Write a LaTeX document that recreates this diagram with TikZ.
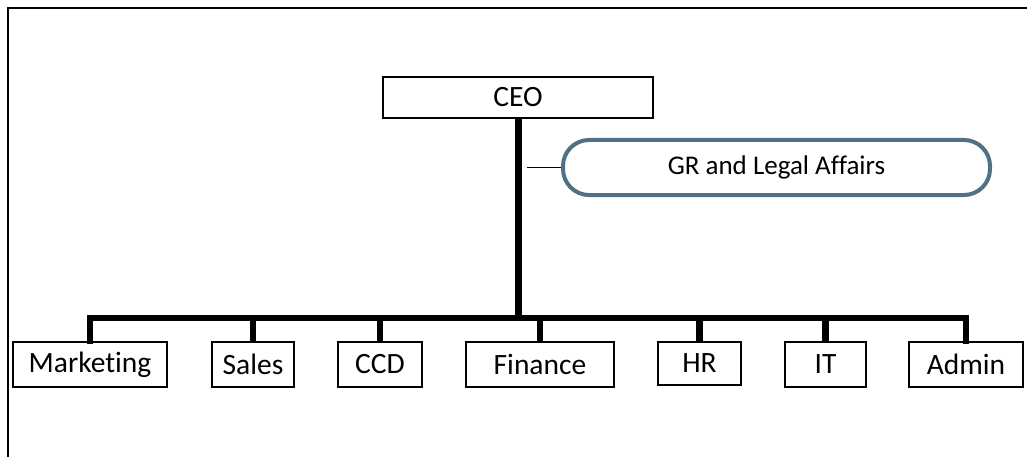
\documentclass[tikz,border=0pt]{standalone}
\usepackage{fontspec}
\setmainfont[Ligatures={NoCommon}]{Carlito}
\begin{document}
\begin{tikzpicture}[x=1pt,y=-1pt,
  unit/.style={draw=black,line width=1.6pt,fill=white,inner sep=0pt,minimum height=45pt,font=\fontsize{29.5}{32}\selectfont},
  gr/.style={draw={rgb,255:red,80;green,112;blue,133},line width=4pt,rounded corners=26pt,inner sep=0pt,minimum width=427pt,minimum height=55pt,font=\fontsize{27}{30}\selectfont},
  thick line/.style={line width=6.5pt,line join=miter,line cap=rect},
  thin line/.style={line width=1.6pt}]
\useasboundingbox (0,0) rectangle (1027,457);
% frame
\draw[line width=2pt] (1027,8) -- (8,8) -- (8,457);
% boxes
\node[unit,minimum width=270pt,minimum height=41pt] (ceo) at (518,97.5) {CEO};
\node[gr] (grl) at (776.5,167.5) {GR and Legal Affairs};
\node[unit,minimum width=154pt] (mk) at (90,364.5) {Marketing};
\node[unit,minimum width=82pt] (sa) at (253,364.5) {Sales};
\node[unit,minimum width=84pt] (ccd) at (380,364.5) {CCD};
\node[unit,minimum width=148pt] (fi) at (540,364.5) {Finance};
\node[unit,minimum width=83pt,minimum height=43pt] (hr) at (699.5,363.5) {HR};
\node[unit,minimum width=81pt] (it) at (825.5,364.5) {IT};
\node[unit,minimum width=114pt] (ad) at (966,364.5) {Admin};
\coordinate (bus) at (518,318);
\coordinate (tap) at (527,167.5);
% connectors
\draw[line width=7pt] (ceo.south) -- (bus);
\draw[thick line] (mk.north) |- (bus) -| (ad.north);
\foreach \n in {sa,ccd,fi,hr,it}{\draw[line width=6.5pt] (\n.north) -- (\n.north |- bus);}
\draw[thin line] (tap) -- (grl.west);
\end{tikzpicture}
\end{document}
